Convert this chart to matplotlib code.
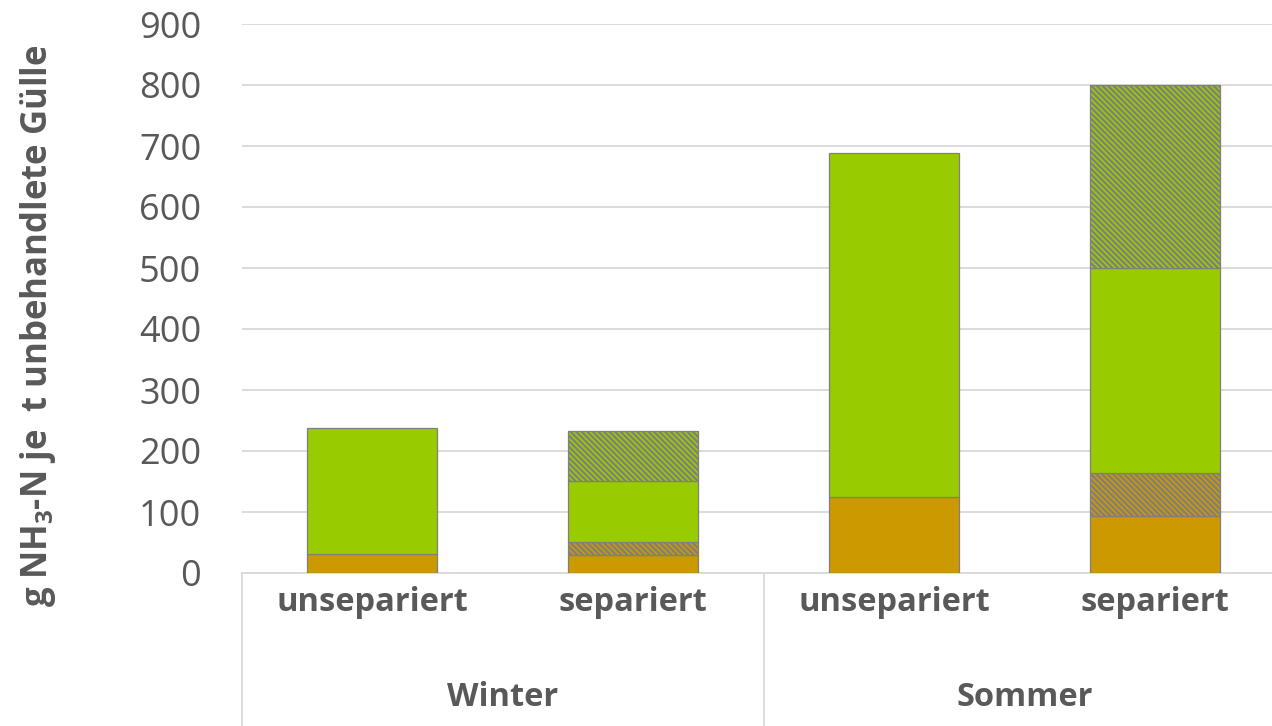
import matplotlib
matplotlib.use("Agg")
import matplotlib.pyplot as plt
import numpy as np

plt.rcParams["font.family"] = ["Open Sans", "DejaVu Sans"]
plt.rcParams["mathtext.fontset"] = "custom"
plt.rcParams["mathtext.rm"] = "Open Sans"
plt.rcParams["mathtext.bf"] = "Open Sans:bold"
plt.rcParams["hatch.linewidth"] = 1.6

# data (g NH3-N per t untreated slurry)
seasons = ["Winter", "Sommer"]
variants = ["unsepariert", "separiert", "unsepariert", "separiert"]
orange_solid = [31, 29, 125, 93]
orange_hatch = [0, 22, 0, 71]
green_solid = [207, 100, 564, 336]
green_hatch = [0, 82, 0, 300]

ORANGE = "#CC9900"
GREEN = "#99CC00"
EDGE = "#7F7F7F"
TXT = "#595959"
GRID = "#D9D9D9"

fig = plt.figure(figsize=(12.72, 7.26), dpi=100)
ax = fig.add_axes([241.5 / 1272, 153 / 726, 1044 / 1272, 549 / 726])

x = np.arange(len(variants))
w = 0.5
HATCH = "\\" * 6
layers = [
    (orange_solid, ORANGE, None),
    (orange_hatch, ORANGE, HATCH),
    (green_solid, GREEN, None),
    (green_hatch, GREEN, HATCH),
]
bottom = np.zeros(len(variants))
for vals, col, hatch in layers:
    vals = np.array(vals, dtype=float)
    mask = vals > 0
    ax.bar(x[mask], vals[mask], w, bottom=bottom[mask], color=col,
           edgecolor=EDGE, linewidth=0.9, hatch=hatch, zorder=3)
    bottom += vals

ax.set_xlim(-0.5, 3.5)
ax.set_ylim(0, 900)
ax.set_yticks(range(0, 901, 100))
ax.yaxis.grid(True, color=GRID, linewidth=1.3, zorder=0)
ax.set_axisbelow(True)
for s in ["top", "right", "left"]:
    ax.spines[s].set_visible(False)
ax.spines["bottom"].set_color(GRID)
ax.spines["bottom"].set_linewidth(1.3)
ax.tick_params(axis="y", length=0, labelsize=26, labelcolor=TXT, pad=29)
ax.tick_params(axis="x", length=0)
ax.set_xticks([])

# two-level category axis
for i, lab in enumerate(variants):
    ax.text(i, -48, lab, ha="center", va="center", fontsize=23.5,
            fontweight="bold", color=TXT, clip_on=False)
for j, s in enumerate(seasons):
    ax.text(0.5 + 2 * j, -204, s, ha="center", va="center", fontsize=23.5,
            fontweight="bold", color=TXT, clip_on=False)
for xv in [-0.5, 1.5, 3.5]:
    ax.plot([xv, xv], [0, -260], color=GRID, linewidth=1.3, clip_on=False)

fig.text(38 / 1272, 1 - 326 / 726, r"g NH$_\mathbf{3}$-N je  t unbehandlete Gülle",
         rotation=90, ha="center", va="center", fontsize=25,
         fontweight="bold", color=TXT)

fig.savefig("out.png", dpi=100)
